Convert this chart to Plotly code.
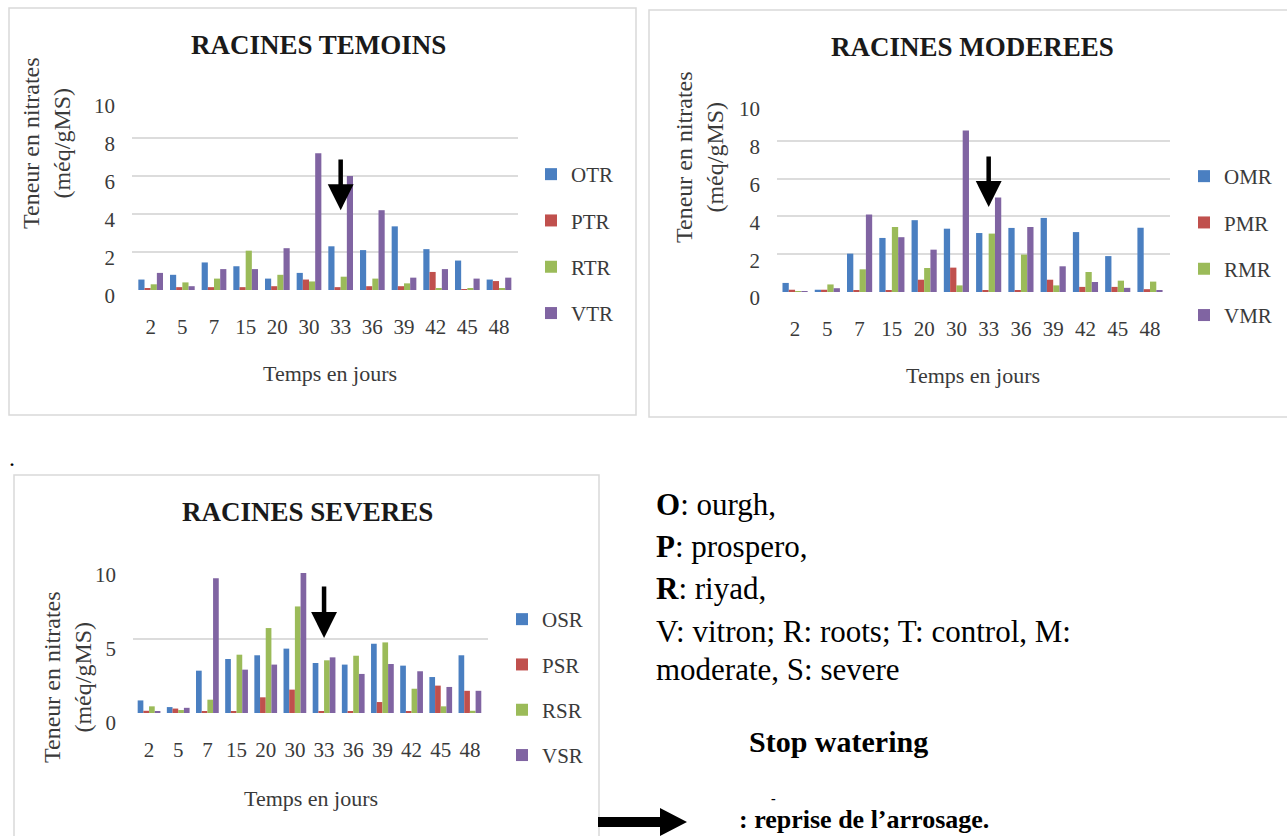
import plotly.graph_objects as go

W, H = 1287, 836

days = ["2", "5", "7", "15", "20", "30", "33", "36", "39", "42", "45", "48"]

# RACINES TEMOINS
OTR = [0.55, 0.8, 1.45, 1.25, 0.6, 0.9, 2.3, 2.1, 3.35, 2.15, 1.55, 0.55]
PTR = [0.1, 0.15, 0.15, 0.15, 0.2, 0.55, 0.15, 0.2, 0.2, 0.95, 0.05, 0.47]
RTR = [0.3, 0.4, 0.6, 2.07, 0.8, 0.45, 0.7, 0.6, 0.35, 0.1, 0.1, 0.1]
VTR = [0.9, 0.2, 1.1, 1.1, 2.2, 7.2, 6.0, 4.2, 0.65, 1.1, 0.6, 0.65]

# RACINES MODEREES
OMR = [0.48, 0.12, 2.03, 2.86, 3.8, 3.35, 3.12, 3.39, 3.92, 3.17, 1.9, 3.4]
PMR = [0.12, 0.12, 0.1, 0.1, 0.65, 1.29, 0.1, 0.1, 0.65, 0.27, 0.27, 0.15]
RMR = [0.02, 0.4, 1.2, 3.44, 1.27, 0.35, 3.09, 1.98, 0.35, 1.06, 0.6, 0.55]
VMR = [0.05, 0.2, 4.1, 2.9, 2.24, 8.55, 5.0, 3.44, 1.36, 0.53, 0.22, 0.08]

# RACINES SEVERES
OSR = [0.85, 0.4, 2.86, 3.65, 3.9, 4.35, 3.38, 3.27, 4.68, 3.2, 2.43, 3.9]
PSR = [0.15, 0.3, 0.1, 0.1, 1.06, 1.58, 0.1, 0.1, 0.74, 0.1, 1.85, 1.5]
RSR = [0.45, 0.2, 0.9, 3.94, 5.74, 7.2, 3.56, 3.87, 4.77, 1.64, 0.45, 0.15]
VSR = [0.1, 0.35, 9.1, 2.93, 3.27, 9.46, 3.76, 2.64, 3.31, 2.82, 1.76, 1.5]

titles = ["RACINES TEMOINS", "RACINES MODEREES", "RACINES SEVERES"]
series_names = [["OTR", "PTR", "RTR", "VTR"],
                ["OMR", "PMR", "RMR", "VMR"],
                ["OSR", "PSR", "RSR", "VSR"]]
series_vals = [[OTR, PTR, RTR, VTR],
               [OMR, PMR, RMR, VMR],
               [OSR, PSR, RSR, VSR]]
colors = ["#4A7FC1", "#C0504D", "#9BBB59", "#8064A2"]

stop_day = "33"
arrow_spans = [(6.95, 4.2), (7.25, 4.5), (8.65, 5.07)]  # (tail, tip) in y units

ytitle = "Teneur en nitrates<br>(méq/gMS)"
xtitle = "Temps en jours"

SERIF = "Liberation Serif"


def fx(p):
    return p / W


def fy(p):
    return 1 - p / H


# panel geometry in pixels: plot x0, x1, y_top, y_bottom
panels = [
    dict(x0=132, x1=518, yt=100, yb=290, xr=[-0.59, 11.6], dtick=2, shift=6,
         frame=(9, 8, 636, 415), title=(318, 45), xt=(330, 373), yt_=(47, 143),
         legx=531, legy=154, gap=16),
    dict(x0=777, x1=1170, yt=103, yb=292, xr=[-0.56, 11.62], dtick=2, shift=6,
         frame=(649, 10, 1292, 417), title=(972, 47), xt=(973, 375), yt_=(699, 157),
         legx=1184, legy=156, gap=16),
    dict(x0=133, x1=488, yt=565, yb=713, xr=[-0.55, 11.62], dtick=5, shift=10,
         frame=(14, 475, 599, 845), title=(307, 512), xt=(311, 798), yt_=(67, 677),
         legx=502, legy=599, gap=15),
]

fig = go.Figure()
legend_keys = ["legend", "legend2", "legend3"]

for i, p in enumerate(panels):
    ax = "" if i == 0 else str(i + 1)
    for j in range(4):
        fig.add_trace(go.Bar(
            x=days, y=series_vals[i][j], name=series_names[i][j],
            marker=dict(color=colors[j], line=dict(width=0)),
            xaxis="x" + ax, yaxis="y" + ax,
            legend=legend_keys[i], legendgroup=series_names[i][j],
        ))
    xa = dict(domain=[fx(p["x0"]), fx(p["x1"])], anchor="y" + ax,
              type="category", range=p["xr"], showgrid=False, zeroline=False,
              showline=False, ticks="", ticklabelstandoff=22, automargin=False,
              tickfont=dict(family=SERIF, size=21, color="#3a3a3a"))
    ya = dict(domain=[fy(p["yb"]), fy(p["yt"])], anchor="x" + ax,
              range=[0, 10], dtick=p["dtick"], showgrid=True,
              gridcolor="#DCDCDC", gridwidth=1.6, zeroline=False, automargin=False,
              showline=False, ticks="", ticklabelstandoff=16,
              ticklabelshift=p["shift"],
              tickfont=dict(family=SERIF, size=21, color="#3a3a3a"))
    fig.update_layout(**{"xaxis" + ax: xa, "yaxis" + ax: ya})

    # legend
    fig.update_layout(**{legend_keys[i]: dict(
        x=fx(p["legx"]), y=fy(p["legy"]), xanchor="left", yanchor="top",
        traceorder="grouped", tracegroupgap=p["gap"], bgcolor="rgba(0,0,0,0)",
        font=dict(family=SERIF, size=21, color="#3a3a3a"), itemwidth=30)})

    # frame
    fx0, fy0, fx1, fy1 = p["frame"]
    fig.add_shape(type="rect", xref="paper", yref="paper",
                  x0=fx(fx0), x1=fx(fx1), y0=fy(fy1), y1=fy(fy0),
                  line=dict(color="#D9D9D9", width=1.5), layer="below")

    # titles
    fig.add_annotation(text="<b>%s</b>" % titles[i], xref="paper", yref="paper",
                       x=fx(p["title"][0]), y=fy(p["title"][1]), showarrow=False,
                       xanchor="center", yanchor="middle",
                       font=dict(family=SERIF, size=27, color="#1a1a1a"))
    fig.add_annotation(text=xtitle, xref="paper", yref="paper",
                       x=fx(p["xt"][0]), y=fy(p["xt"][1]), showarrow=False,
                       xanchor="center", yanchor="middle",
                       font=dict(family=SERIF, size=22, color="#3a3a3a"))
    fig.add_annotation(text=ytitle, xref="paper", yref="paper",
                       x=fx(p["yt_"][0]), y=fy(p["yt_"][1]), showarrow=False,
                       textangle=-90, xanchor="center", yanchor="middle",
                       font=dict(family=SERIF, size=24, color="#3a3a3a"))

    # stop-watering arrow
    tail, tip = arrow_spans[i]
    k = days.index(stop_day)
    fig.add_annotation(x=k, y=tip, ax=k, ay=tail, xref="x" + ax, yref="y" + ax,
                       axref="x" + ax, ayref="y" + ax, text="", showarrow=True,
                       arrowhead=2, arrowsize=1.15, arrowwidth=4.5,
                       arrowcolor="#000000")

# text block on the right
txt_font = dict(family=SERIF, size=31, color="#000000")
lines = [
    ("<b>O</b>: ourgh,", 654, 505),
    ("<b>P</b>: prospero,", 654, 546),
    ("<b>R</b>: riyad,", 654, 588),
    ("V: vitron; R: roots; T: control, M:", 654, 631),
    ("moderate, S: severe", 654, 669),
]
for t, x, y in lines:
    fig.add_annotation(text=t, xref="paper", yref="paper", x=fx(x), y=fy(y),
                       showarrow=False, xanchor="left", yanchor="middle", font=txt_font)

fig.add_annotation(text="<b>Stop watering</b>", xref="paper", yref="paper",
                   x=fx(747), y=fy(741), showarrow=False, xanchor="left",
                   yanchor="middle", font=dict(family=SERIF, size=30, color="#000000"))
fig.add_annotation(text="<b>: reprise de l’arrosage.</b>", xref="paper", yref="paper",
                   x=fx(737), y=fy(819), showarrow=False, xanchor="left",
                   yanchor="middle", font=dict(family=SERIF, size=26, color="#000000"))
fig.add_annotation(text="<b>-</b>", xref="paper", yref="paper",
                   x=fx(773), y=fy(798), showarrow=False, xanchor="center",
                   yanchor="middle", font=dict(family=SERIF, size=14, color="#000000"))
fig.add_annotation(text=".", xref="paper", yref="paper",
                   x=fx(12), y=fy(458), showarrow=False, xanchor="center",
                   yanchor="middle", font=dict(family=SERIF, size=24, color="#000000"))

# legend arrow glyph (horizontal)
ax0, ax1, ah, ay_, sh, hh = 598, 687, 660, 822, 5, 14
path = ("M {a},{b} L {c},{b} L {c},{d} L {e},{f} L {c},{g} L {c},{h} L {a},{h} Z"
        .format(a=fx(ax0), b=fy(ay_ - sh), c=fx(ah), d=fy(ay_ - hh), e=fx(ax1),
                f=fy(ay_), g=fy(ay_ + hh), h=fy(ay_ + sh)))
fig.add_shape(type="path", xref="paper", yref="paper", path=path,
              fillcolor="#000000", line=dict(width=0))

fig.update_layout(
    width=W, height=H, margin=dict(l=0, r=0, t=0, b=0, autoexpand=False),
    paper_bgcolor="white", plot_bgcolor="white",
    barmode="group", bargap=0.22, bargroupgap=0,
    showlegend=True, font=dict(family=SERIF),
)

fig.write_html("out.html")
